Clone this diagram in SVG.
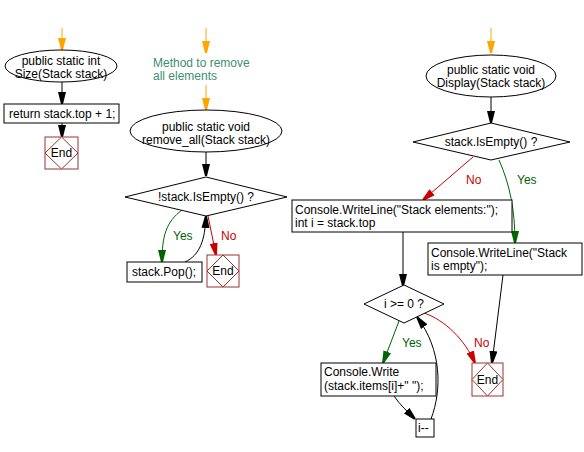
<svg xmlns="http://www.w3.org/2000/svg" width="584" height="452" viewBox="0 0 584 452">
<style>
text{font-family:"Liberation Sans",Arial,sans-serif;font-size:12px;fill:#000}
.c{text-anchor:middle}
.shape{fill:#fff;stroke:#000;stroke-width:1}
.end{fill:#fff;stroke:#993333;stroke-width:1}
.k{fill:none;stroke:#000;stroke-width:1}
.o{fill:none;stroke:#ffa500;stroke-width:1}
.g{fill:none;stroke:#006400;stroke-width:1}
.r{fill:none;stroke:#cc0000;stroke-width:1}
.note{fill:#408e70}
.gl{fill:#006400}
.rl{fill:#cc0000}
</style>
<defs>
<marker id="ak" markerUnits="userSpaceOnUse" markerWidth="14" markerHeight="10" refX="12" refY="5" orient="auto" viewBox="0 0 14 10"><polygon points="0,1 12,4 12,6 0,9" fill="#000"/></marker>
<marker id="ao" markerUnits="userSpaceOnUse" markerWidth="14" markerHeight="10" refX="12" refY="5" orient="auto" viewBox="0 0 14 10"><polygon points="0,1 12,4 12,6 0,9" fill="#ffa500"/></marker>
<marker id="ag" markerUnits="userSpaceOnUse" markerWidth="14" markerHeight="10" refX="12" refY="5" orient="auto" viewBox="0 0 14 10"><polygon points="0,1 12,4 12,6 0,9" fill="#006400"/></marker>
<marker id="ar" markerUnits="userSpaceOnUse" markerWidth="14" markerHeight="10" refX="12" refY="5" orient="auto" viewBox="0 0 14 10"><polygon points="0,1 12,4 12,6 0,9" fill="#cc0000"/></marker>
</defs>

<g id="connectors">
<path class="o" d="M62,28 L62,50" marker-end="url(#ao)"/>
<path class="k" d="M62,82 L62,104" marker-end="url(#ak)"/>
<path class="k" d="M62,123 L62,137" marker-end="url(#ak)"/>

<path class="o" d="M206,28 L206,53" marker-end="url(#ao)"/>
<path class="o" d="M206,85 L206,110" marker-end="url(#ao)"/>
<path class="k" d="M206,152 L206,176" marker-end="url(#ak)"/>
<path class="g" d="M182,210 C166,222 162,236 162,262" marker-end="url(#ag)"/>
<path class="k" d="M185,262 C200,255 205,240 206,216" marker-end="url(#ak)"/>
<path class="r" d="M208,216 L216,255" marker-end="url(#ar)"/>

<path class="o" d="M491,28 L491,53" marker-end="url(#ao)"/>
<path class="k" d="M491,97 L491,123" marker-end="url(#ak)"/>
<path class="r" d="M473,157 L423,200" marker-end="url(#ar)"/>
<path class="g" d="M499,160 C510,185 515,210 515,243" marker-end="url(#ag)"/>
<path class="k" d="M403,232 L403,286" marker-end="url(#ak)"/>
<path class="k" d="M503,275 L492,363" marker-end="url(#ak)"/>
<path class="g" d="M399,321 L383,363" marker-end="url(#ag)"/>
<path class="k" d="M394,396 C400,405 408,412 415,419" marker-end="url(#ak)"/>
<path class="k" d="M431,419 C442,390 442,350 417,317" marker-end="url(#ak)"/>
<path class="r" d="M424,313 C445,320 465,340 475,363" marker-end="url(#ar)"/>
</g>

<g id="labels">
<text class="note" x="153" y="66.5">Method to remove</text>
<text class="note" x="153" y="79.5">all elements</text>
<text class="gl" x="173" y="240">Yes</text>
<text class="rl" x="221" y="240">No</text>
<text class="rl" x="466" y="184">No</text>
<text class="gl" x="517" y="184">Yes</text>
<text class="gl" x="402" y="347">Yes</text>
<text class="rl" x="474" y="347">No</text>
</g>

<g id="size-start">
<ellipse class="shape" cx="61" cy="66" rx="56" ry="16"/>
<text class="c" x="61" y="65">public static int</text>
<text class="c" x="61" y="78">Size(Stack stack)</text>
</g>
<g id="size-return">
<rect class="shape" x="4" y="104" width="115" height="19"/>
<text x="9" y="118">return stack.top + 1;</text>
</g>
<g id="size-end">
<rect class="end" x="45" y="137" width="33" height="32"/>
<polygon class="end" points="61.5,137 78,153 61.5,169 45,153"/>
<text class="c" x="61.5" y="157">End</text>
</g>

<g id="remove-start">
<ellipse class="shape" cx="206" cy="131" rx="76" ry="21"/>
<text class="c" x="206" y="130.5">public static void</text>
<text class="c" x="206" y="143.5">remove_all(Stack stack)</text>
</g>
<g id="remove-cond">
<polygon class="shape" points="206,177 287,197 206,216 125,197"/>
<text class="c" x="206" y="201">!stack.IsEmpty() ?</text>
</g>
<g id="remove-pop">
<rect class="shape" x="127" y="262" width="75" height="20"/>
<text x="132" y="276">stack.Pop();</text>
</g>
<g id="remove-end">
<rect class="end" x="207" y="255" width="32" height="32"/>
<polygon class="end" points="223,255 239,271 223,287 207,271"/>
<text class="c" x="223" y="275">End</text>
</g>

<g id="display-start">
<ellipse class="shape" cx="491" cy="76" rx="65" ry="21"/>
<text class="c" x="491" y="74">public static void</text>
<text class="c" x="491" y="87">Display(Stack stack)</text>
</g>
<g id="display-cond">
<polygon class="shape" points="491,123 570,142 491,160 413,142"/>
<text class="c" x="491" y="146">stack.IsEmpty() ?</text>
</g>
<g id="display-elements">
<rect class="shape" x="292" y="200" width="220" height="32"/>
<text x="295" y="214">Console.WriteLine("Stack elements:");</text>
<text x="295" y="227">int i = stack.top</text>
</g>
<g id="display-empty">
<rect class="shape" x="428" y="243" width="154" height="32"/>
<text x="431" y="257">Console.WriteLine("Stack</text>
<text x="431" y="270">is empty");</text>
</g>
<g id="display-loop">
<polygon class="shape" points="404,285 444,304 404,323 364,304"/>
<text class="c" x="404" y="308">i &gt;= 0 ?</text>
</g>
<g id="display-write">
<rect class="shape" x="321" y="363" width="115" height="33"/>
<text x="324" y="376">Console.Write</text>
<text x="324" y="390">(stack.items[i]+" ");</text>
</g>
<g id="display-dec">
<rect class="shape" x="416" y="419" width="18" height="18"/>
<text x="418" y="432">i--</text>
</g>
<g id="display-end">
<rect class="end" x="472" y="363" width="31" height="33"/>
<polygon class="end" points="487.5,363 503,379.5 487.5,396 472,379.5"/>
<text class="c" x="487.5" y="384">End</text>
</g>
</svg>
